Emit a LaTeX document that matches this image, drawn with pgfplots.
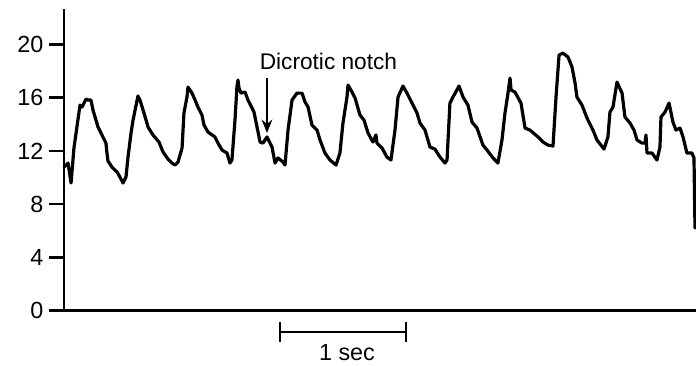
\documentclass[border=0pt]{standalone}
\usepackage{pgfplots}
\pgfplotsset{compat=1.18}
\usepackage{pgfplotstable}
\usepackage{fontspec}
\setmainfont{Liberation Sans}
\usetikzlibrary{arrows.meta}

% Arterial pressure trace: time (s), pressure (mmHg)
\pgfplotstableread{
t p
0.000 10.79
0.032 11.09
0.056 9.59
0.079 12.22
0.127 15.45
0.143 15.30
0.175 15.90
0.190 15.83
0.214 15.83
0.230 15.08
0.270 13.80
0.333 12.59
0.341 11.84
0.349 11.24
0.381 10.79
0.421 10.41
0.444 10.04
0.468 9.59
0.492 10.04
0.508 11.54
0.532 13.35
0.548 14.32
0.587 16.13
0.603 15.83
0.635 14.85
0.667 13.80
0.706 13.20
0.754 12.67
0.786 11.92
0.825 11.39
0.857 11.09
0.881 10.94
0.905 11.17
0.937 12.22
0.952 14.85
0.976 16.05
0.984 16.80
1.016 16.35
1.040 15.83
1.063 15.30
1.095 14.70
1.111 13.95
1.143 13.42
1.198 13.05
1.222 12.59
1.254 12.07
1.294 11.84
1.317 11.09
1.333 11.32
1.357 14.32
1.373 16.88
1.381 17.33
1.389 16.73
1.405 16.35
1.437 16.43
1.460 15.83
1.492 15.23
1.508 14.92
1.532 13.80
1.556 12.67
1.579 12.59
1.611 13.05
1.635 12.59
1.651 12.29
1.675 11.09
1.698 11.47
1.738 11.17
1.754 10.94
1.778 13.57
1.810 15.83
1.849 16.35
1.889 16.35
1.913 15.68
1.937 15.30
1.968 13.95
2.008 13.57
2.032 12.82
2.071 11.84
2.111 11.32
2.159 10.94
2.190 11.84
2.214 14.10
2.246 16.05
2.254 16.95
2.286 16.43
2.310 15.98
2.349 14.70
2.381 14.32
2.413 13.35
2.452 12.67
2.476 13.20
2.484 12.59
2.524 12.22
2.563 11.54
2.595 11.32
2.627 13.57
2.651 16.05
2.690 16.88
2.722 16.35
2.762 15.60
2.802 14.85
2.825 14.10
2.865 13.57
2.905 12.29
2.944 12.14
2.984 11.54
3.024 11.09
3.040 11.32
3.063 15.60
3.087 16.05
3.135 16.88
3.167 16.05
3.206 15.45
3.238 14.17
3.278 13.72
3.325 12.44
3.357 12.07
3.405 11.47
3.444 11.09
3.476 12.82
3.500 14.85
3.524 16.35
3.540 17.48
3.548 16.58
3.579 16.43
3.627 15.60
3.659 13.72
3.698 13.57
3.762 13.05
3.802 12.67
3.841 12.44
3.881 12.37
3.905 16.05
3.929 19.21
3.960 19.36
4.000 19.06
4.032 18.31
4.056 17.11
4.071 16.05
4.111 15.45
4.151 14.47
4.198 13.57
4.230 12.82
4.286 12.14
4.317 13.05
4.333 14.92
4.357 15.30
4.389 17.18
4.429 16.35
4.452 14.55
4.492 14.10
4.524 13.57
4.548 12.82
4.587 12.59
4.611 12.59
4.619 13.20
4.627 11.84
4.667 11.84
4.706 11.32
4.730 12.29
4.738 14.55
4.770 14.92
4.802 15.60
4.833 14.17
4.857 13.57
4.889 13.72
4.913 13.05
4.944 11.84
4.984 11.84
5.000 11.47
5.008 6.20
}\pressure

\begin{document}
\begin{tikzpicture}
\useasboundingbox (-48pt,-40.875pt) rectangle (474pt,232.875pt);
\begin{axis}[
  at={(0,0)}, anchor=south west,
  scale only axis,
  width=474pt, height=225.375pt,
  xmin=0, xmax=5.016,
  ymin=0, ymax=22.6,
  axis lines*=left,
  axis line style={line width=2.2pt, line cap=rect},
  xtick=\empty,
  ytick={0,4,8,12,16,20},
  tick align=outside,
  major tick length=11pt,
  tick style={line width=1.9pt, black},
  /pgf/number format/assume math mode=true,
  yticklabel style={font=\fontsize{17.5}{19}\selectfont, xshift=-1pt},
  clip=false,
]
\addplot[line width=2.4pt, black, line join=round, line cap=round] table[x=t, y=p] {\pressure};

% annotation of the dicrotic notch
\node[font=\fontsize{17}{19}\selectfont] at (axis cs:2.099,18.72) {Dicrotic notch};
\draw[line width=1.9pt, -{Stealth[length=10pt, width=8pt]}] (axis cs:1.611,17.48) -- (axis cs:1.611,13.35);

% time scale bar
\draw[line width=1.9pt] (axis cs:1.714,-1.62) -- (axis cs:2.714,-1.62);
\draw[line width=1.9pt] (axis cs:1.714,-0.87) -- (axis cs:1.714,-2.37);
\draw[line width=1.9pt] (axis cs:2.714,-0.87) -- (axis cs:2.714,-2.37);
\node[font=\fontsize{17.5}{19}\selectfont] at (axis cs:2.246,-3.2) {1 sec};
\end{axis}
\end{tikzpicture}
\end{document}
